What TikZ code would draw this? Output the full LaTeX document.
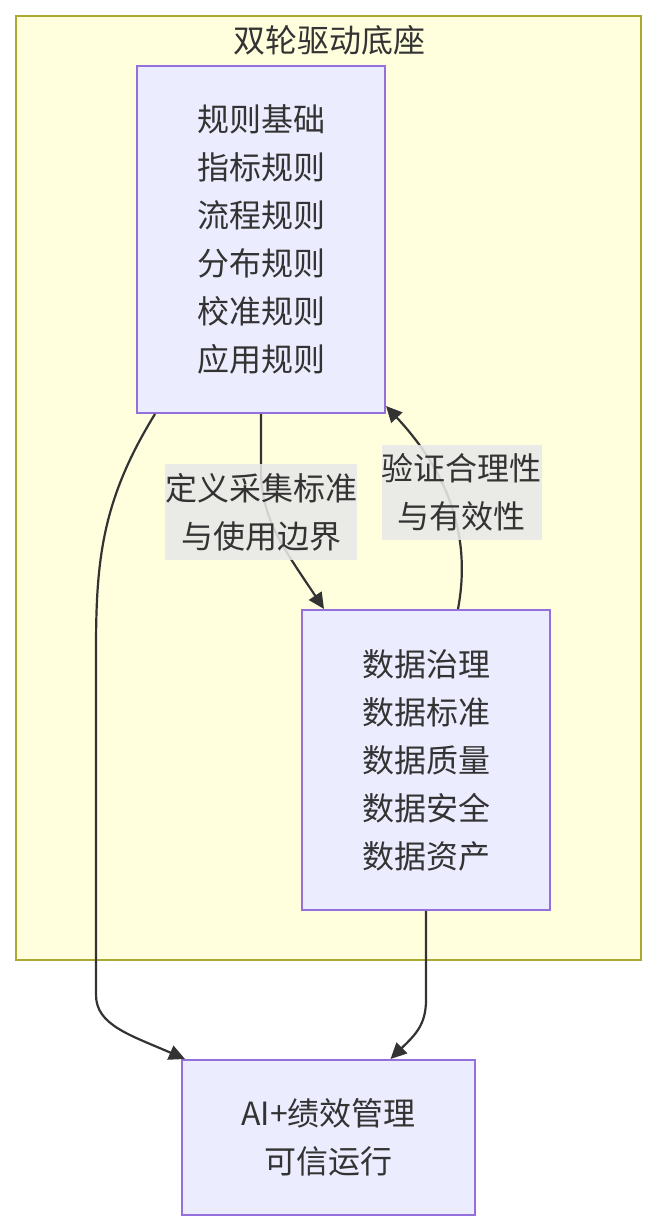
\documentclass[tikz,border=0pt]{standalone}
\usepackage{fontspec}
\setmainfont{Noto Sans CJK SC}
\usetikzlibrary{arrows.meta}
\definecolor{clfill}{HTML}{FFFFDE}
\definecolor{clline}{HTML}{AAAA33}
\definecolor{nfill}{HTML}{ECECFF}
\definecolor{nline}{HTML}{9370DB}
\definecolor{txt}{HTML}{333333}
\definecolor{lblbg}{HTML}{E8E8E8}
\tikzset{
  bigfont/.style={font=\fontsize{32pt}{48pt}\selectfont, text=txt},
  nodebox/.style={draw=nline, fill=nfill, line width=2pt, bigfont, align=center, inner sep=0pt},
  edgelbl/.style={fill=lblbg, fill opacity=0.88, text opacity=1, bigfont, align=center, inner sep=0pt},
  conn/.style={draw=txt, line width=2.2pt, -{Triangle[length=16pt,width=15pt]}},
}
\begin{document}
\begin{tikzpicture}[x=1pt,y=-1pt]
\useasboundingbox (0,0) rectangle (658,1232);
\fill[white] (0,0) rectangle (658,1232);
% cluster
\node[draw=clline, fill=clfill, line width=2pt, minimum width=625pt, minimum height=944pt, inner sep=0pt] (cl) at (328.5,488) {};
\node[bigfont] (title) at (329,40) {双轮驱动底座};
% nodes
\node[nodebox, minimum width=248pt, minimum height=347pt] (A) at (261,239.5) {规则基础\\指标规则\\流程规则\\分布规则\\校准规则\\应用规则};
\node[nodebox, minimum width=248pt, minimum height=300pt] (B) at (426,760) {数据治理\\数据标准\\数据质量\\数据安全\\数据资产};
\node[nodebox, minimum width=293pt, minimum height=155pt] (C) at (328.5,1137.5) {AI+绩效管理\\可信运行};
% edges
\draw[conn] (A.south) -- (261,470) .. controls (261,520) and (285,550) .. ([xshift=23pt]B.north west);
\draw[conn] ([xshift=32pt]B.north) .. controls (470,545) and (455,480) .. ([yshift=8pt]A.south east);
\draw[conn] ([xshift=-106pt]A.south) .. controls (102,500) and (96,560) .. (96,650) -- (96,995) .. controls (96,1025) and (130,1035) .. ([xshift=4pt]C.north west);
\draw[conn] (B.south) -- (426,1000) .. controls (426,1025) and (415,1035) .. ([xshift=62pt]C.north);
% edge labels
\node[edgelbl, minimum width=192pt, minimum height=96pt] (LAB) at (261,512) {定义采集标准\\与使用边界};
\node[edgelbl, minimum width=160pt, minimum height=95pt] (LBA) at (461.5,492.5) {验证合理性\\与有效性};
\end{tikzpicture}
\end{document}
